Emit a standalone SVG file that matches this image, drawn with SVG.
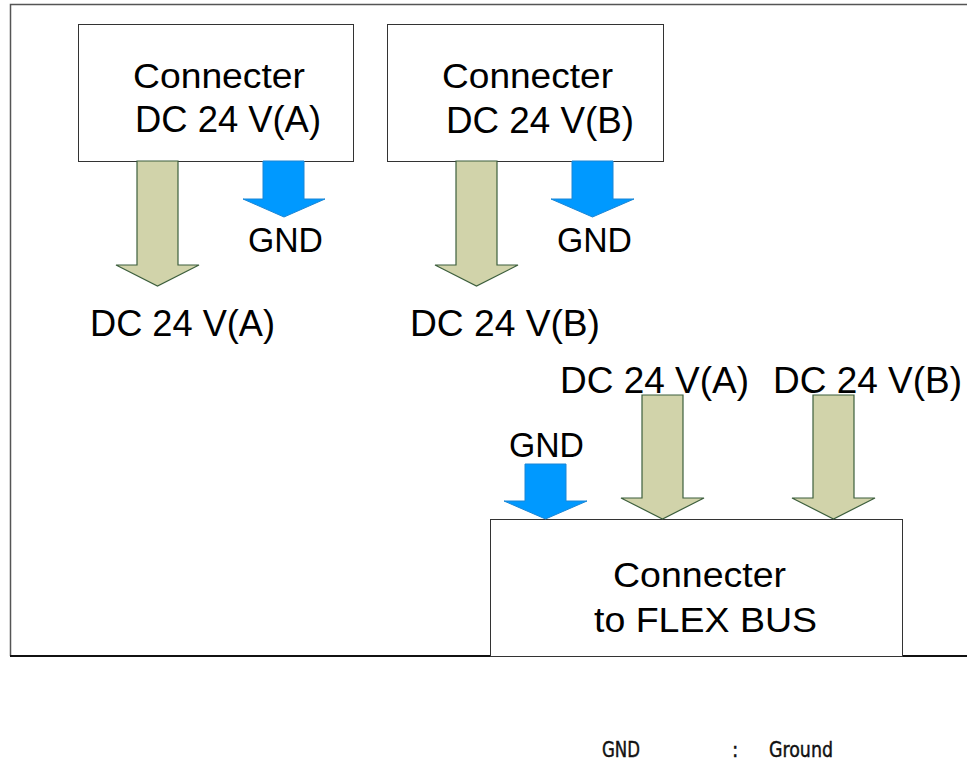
<svg xmlns="http://www.w3.org/2000/svg" width="967" height="762" viewBox="0 0 967 762">
<style>
.box{fill:#fff;stroke:#333;stroke-width:1}
.t{font-family:"Liberation Sans",Arial,sans-serif;fill:#000}
.big{font-size:37px}
.mid{font-size:35px}
.tan{fill:#d1d3aa;stroke:#3d5f3d;stroke-width:1.2}
.blue{fill:#0099ff;stroke:#1a86d6;stroke-width:1}
.leg{font-family:"DejaVu Sans Condensed","DejaVu Sans",sans-serif;font-size:21px;fill:#111;stroke:#111;stroke-width:0.4}
</style>
<rect width="967" height="762" fill="#fff"/>
<g id="frame">
<path d="M968 4.5 H10.5 V656" fill="none" stroke="#555" stroke-width="1.5"/>
<path d="M10 656 H968" fill="none" stroke="#111" stroke-width="2"/>
</g>
<g id="nodeA">
<rect class="box" x="78.5" y="24.5" width="275" height="137"/>
<text class="t mid" x="133" y="88" textLength="172" lengthAdjust="spacingAndGlyphs">Connecter</text>
<text class="t big" x="135" y="132" textLength="186" lengthAdjust="spacingAndGlyphs">DC 24 V(A)</text>
</g>
<g id="nodeB">
<rect class="box" x="387.5" y="24.5" width="276" height="137"/>
<text class="t mid" x="442" y="88" textLength="171" lengthAdjust="spacingAndGlyphs">Connecter</text>
<text class="t big" x="446" y="133" textLength="188" lengthAdjust="spacingAndGlyphs">DC 24 V(B)</text>
</g>
<g id="nodeBus">
<rect class="box" x="490.5" y="519.5" width="412" height="137"/>
<text class="t mid" x="613" y="587" textLength="173" lengthAdjust="spacingAndGlyphs">Connecter</text>
<text class="t mid" x="594" y="632" textLength="223" lengthAdjust="spacingAndGlyphs">to FLEX BUS</text>
</g>
<g id="connectors">
<path class="tan" d="M137 161 H178 V265 H199 L157.5 286 L116 265 H137 Z"/>
<path class="blue" d="M263 161 H304 V199 H325 L284 217 L243 199 H263 Z"/>
<path class="tan" d="M456 161 H497 V265 H518 L476.5 286 L435 265 H456 Z"/>
<path class="blue" d="M572 161 H613 V199 H634 L592.5 217 L551 199 H572 Z"/>
<path class="blue" d="M525 464 H566 V501 H587 L545.5 519 L504 501 H525 Z"/>
<path class="tan" d="M642 395 H683 V498 H704 L662.5 519 L621 498 H642 Z"/>
<path class="tan" d="M813 395 H854 V498 H875 L833.5 519 L792 498 H813 Z"/>
</g>
<g id="labels">
<text class="t mid" x="248" y="252" textLength="75" lengthAdjust="spacingAndGlyphs">GND</text>
<text class="t mid" x="557" y="252" textLength="75" lengthAdjust="spacingAndGlyphs">GND</text>
<text class="t mid" x="509" y="457" textLength="75" lengthAdjust="spacingAndGlyphs">GND</text>
<text class="t big" x="90" y="336" textLength="185" lengthAdjust="spacingAndGlyphs">DC 24 V(A)</text>
<text class="t big" x="410" y="336" textLength="190" lengthAdjust="spacingAndGlyphs">DC 24 V(B)</text>
<text class="t big" x="560" y="393" textLength="189" lengthAdjust="spacingAndGlyphs">DC 24 V(A)</text>
<text class="t big" x="773" y="393" textLength="189" lengthAdjust="spacingAndGlyphs">DC 24 V(B)</text>
</g>
<g id="legend">
<text class="leg" x="602" y="757" textLength="38" lengthAdjust="spacingAndGlyphs">GND</text>
<text class="leg" x="732" y="757">:</text>
<text class="leg" x="769" y="757" textLength="64" lengthAdjust="spacingAndGlyphs">Ground</text>
</g>
</svg>
